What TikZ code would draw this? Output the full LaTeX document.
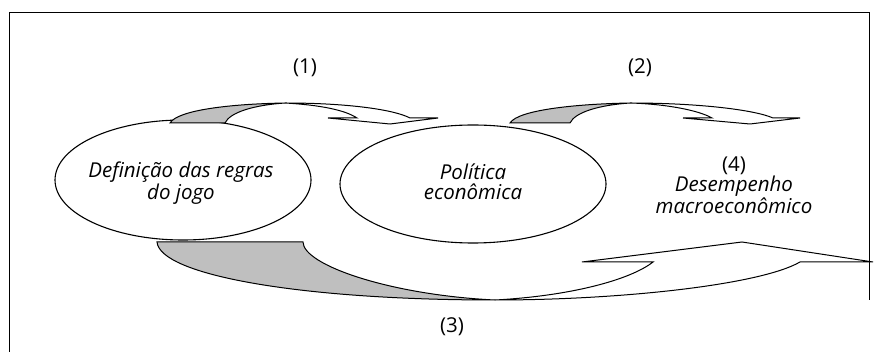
\documentclass[tikz,border=0pt]{standalone}
\usepackage{fontspec}
\setmainfont{Open Sans}
\usetikzlibrary{shapes.geometric}
\definecolor{bandgray}{RGB}{191,191,191}
\begin{document}
\begin{tikzpicture}[x=1pt,y=-1pt,
 oval/.style={draw,ellipse,fill=white,line width=1.1pt,inner sep=0pt},
 lbl/.style={font=\fontsize{20.5}{20}\selectfont\itshape,align=center,inner sep=0pt},
 num/.style={font=\fontsize{20.5}{20}\selectfont,inner sep=0pt},
 band/.style={draw,line width=1pt,line join=miter},
 grayband/.style={band,fill=bandgray},
 whiteband/.style={band,fill=white},
 frame/.style={draw,line width=0.8pt}]
\useasboundingbox (0,0) rectangle (885,352);
\coordinate (f1) at (9,352);
\coordinate (f2) at (9,12);
\coordinate (f3) at (869,12);
\coordinate (f4) at (869,300);
\draw[frame] (f1) -- (f2) -- (f3) -- (f4);
\node[oval,minimum width=256pt,minimum height=120pt] (e1) at (183,180) {};
\node[oval,minimum width=266pt,minimum height=118pt] (e2) at (473,184) {};
\node[lbl] (t1) at (181,183) {Definição das regras\\do jogo};
\node[lbl] (t2) at (473,182) {Política\\econômica};
\node[lbl] (t4) at (734,185) {\upshape(4)\\Desempenho\\macroeconômico};
\node[num] (n1) at (305,68) {(1)};
\node[num] (n2) at (640,68) {(2)};
\node[num] (n3) at (452,327) {(3)};
% arrow 1
\filldraw[grayband] (170,123) .. controls (178,110) and (230,104) .. (285,103) .. controls (255,105) and (230,112) .. (225,123) -- cycle;
\filldraw[whiteband] (285,103) .. controls (350,103) and (395,110) .. (410,118) -- (438,118) -- (390,124) -- (328,118) -- (357,118) .. controls (345,110) and (320,105) .. (285,103) -- cycle;
% arrow 2
\filldraw[grayband] (510,123) .. controls (518,110) and (575,104) .. (630,103) .. controls (600,105) and (575,112) .. (570,123) -- cycle;
\filldraw[whiteband] (630,103) .. controls (700,103) and (755,110) .. (773,118) -- (800,118) -- (750,124) -- (683,118) -- (712,118) .. controls (698,110) and (665,104) .. (630,103) -- cycle;
% arrow 3
\filldraw[grayband] (157,242) -- (303,242) .. controls (303,265) and (390,295) .. (495,300) .. controls (300,300) and (160,275) .. (157,242) -- cycle;
\filldraw[whiteband] (495,300) .. controls (620,300) and (760,285) .. (800,262) -- (873,262) -- (742,242) -- (582,262) -- (653,262) .. controls (630,280) and (570,296) .. (495,300) -- cycle;
\end{tikzpicture}
\end{document}
